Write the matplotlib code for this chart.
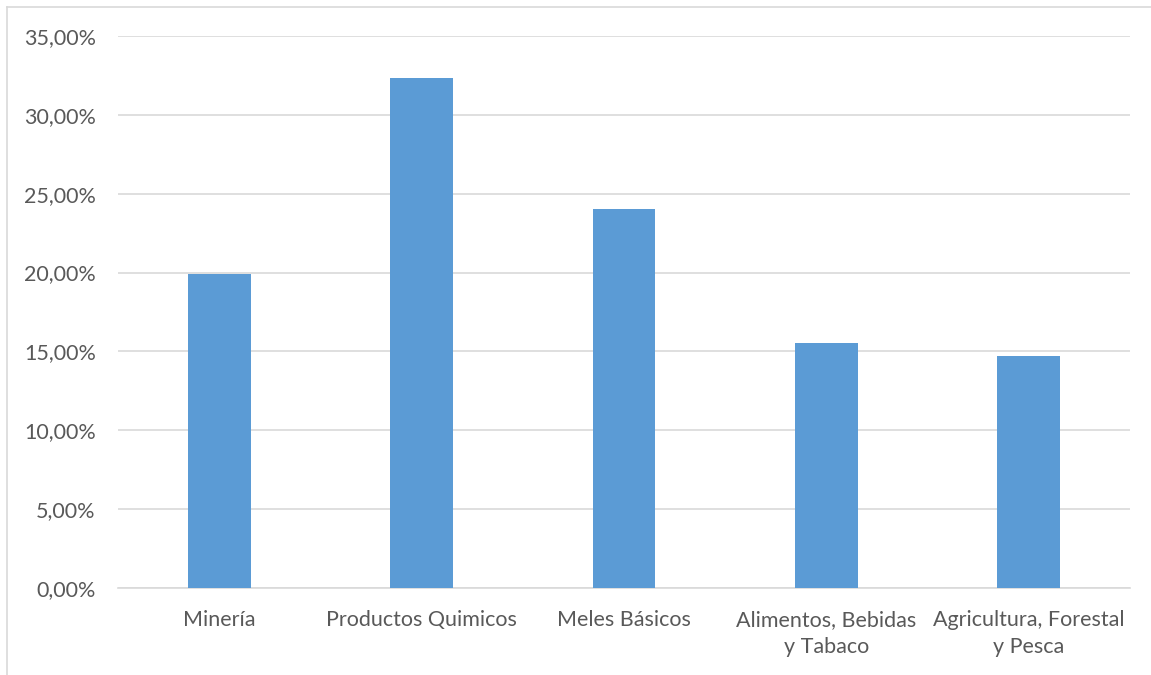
import matplotlib.pyplot as plt
from matplotlib.ticker import FuncFormatter
from matplotlib.lines import Line2D

# donnees
categorias = ["Minería", "Productos Quimicos", "Meles Básicos",
              "Alimentos, Bebidas\ny Tabaco", "Agricultura, Forestal\ny Pesca"]
valores = [19.9, 32.35, 24.05, 15.55, 14.7]
yticks = [0, 5, 10, 15, 20, 25, 30, 35]

plt.rcParams['font.family'] = ['Lato', 'DejaVu Sans']

fig = plt.figure(figsize=(11.51, 6.75), dpi=100)
W, H = 1151, 675
ax = fig.add_axes([118 / W, 1 - 588 / H, (1130 - 118) / W, (588 - 36) / H])

x = range(len(categorias))
ax.bar(x, valores, width=0.31, color='#5B9BD5', zorder=3)
ax.set_xlim(-0.5, len(categorias) - 0.5)
ax.set_ylim(0, 35)
ax.set_yticks(yticks)
ax.yaxis.set_major_formatter(FuncFormatter(lambda v, p: f"{v:.2f}".replace('.', ',') + "%"))
ax.set_xticks(list(x))
ax.set_xticklabels(categorias, linespacing=1.45)
ax.grid(axis='y', color='#D9D9D9', linewidth=1.2, zorder=0)
for s in ['top', 'right', 'left']:
    ax.spines[s].set_visible(False)
ax.spines['bottom'].set_color('#D9D9D9')
ax.spines['bottom'].set_linewidth(1.2)
ax.tick_params(axis='both', length=0, colors='#595959', labelsize=15.5)
ax.tick_params(axis='y', pad=16)
ax.tick_params(axis='x', pad=16)

# cadre du graphique (coin haut gauche)
fig.add_artist(Line2D([7 / W, 1], [1 - 7 / H, 1 - 7 / H], color='#D9D9D9', lw=1.2))
fig.add_artist(Line2D([7 / W, 7 / W], [0, 1 - 7 / H], color='#D9D9D9', lw=1.2))

fig.savefig('out.png', dpi=100)
